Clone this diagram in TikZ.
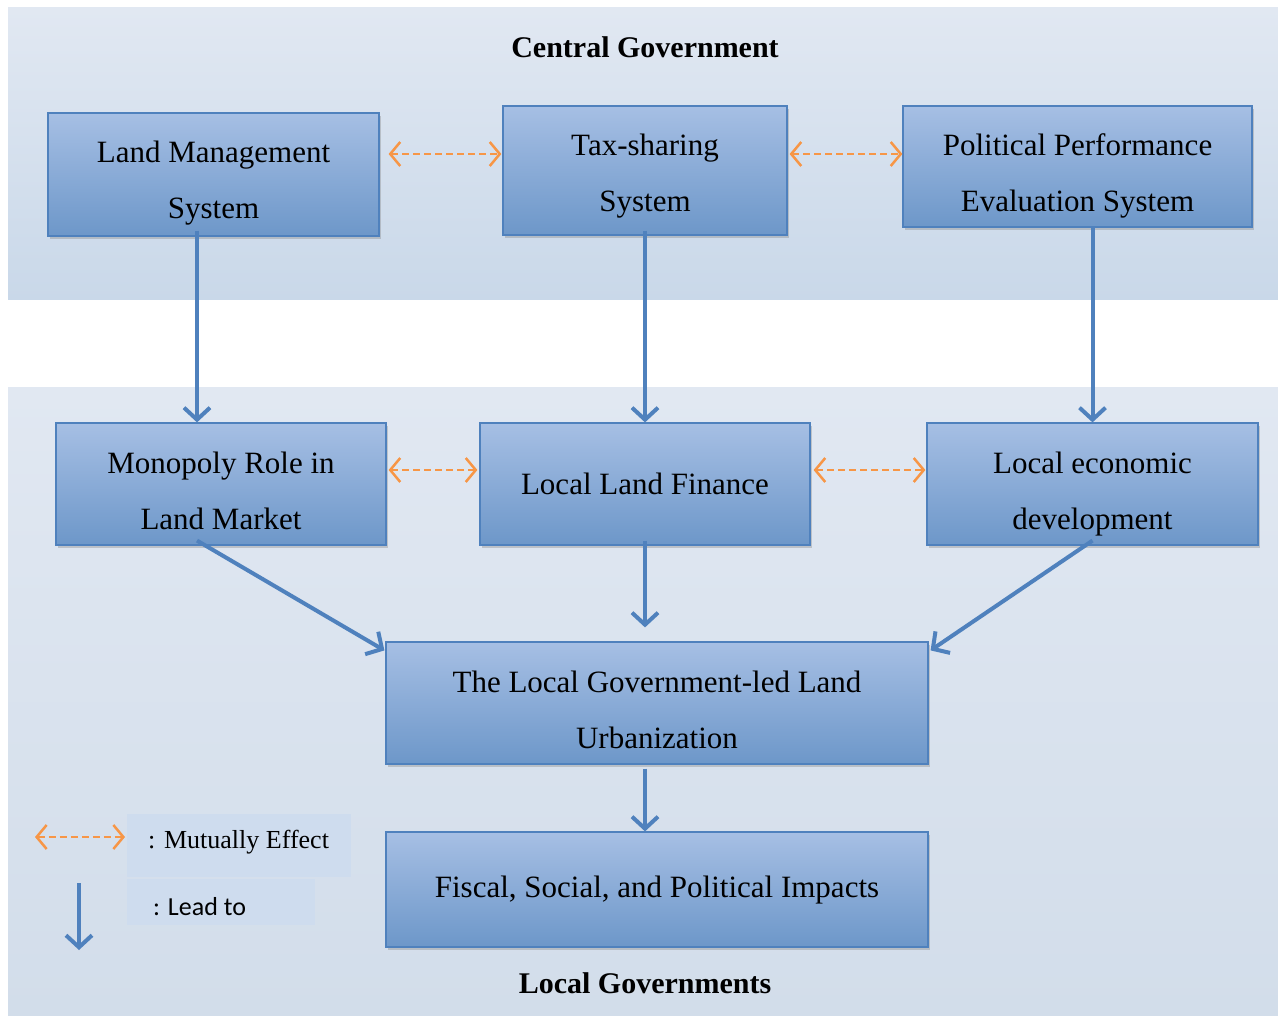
\documentclass[tikz,border=0pt]{standalone}
\usepackage{fontspec}
\setmainfont{Liberation Serif}
\newfontfamily\calibri{Carlito}
\usetikzlibrary{arrows.meta,shadows,calc}
\definecolor{boxtop}{HTML}{A6BFE4}
\definecolor{boxbot}{HTML}{6D97C9}
\definecolor{boxline}{HTML}{4F81BD}
\definecolor{arrowblue}{HTML}{4F81BD}
\definecolor{orangec}{HTML}{F79646}
\definecolor{paneltop}{HTML}{E1E8F2}
\definecolor{panelbot}{HTML}{C9D8E9}
\definecolor{panelbotb}{HTML}{D2DDEA}
\definecolor{legfill}{HTML}{CEDCEE}
\newcommand{\lowr}[1]{\rule{0pt}{#1}}
\tikzset{
  stepbox/.style={draw=boxline, line width=1.2pt, top color=boxtop, bottom color=boxbot,
    align=center, inner sep=0pt, font=\fontsize{31}{56}\selectfont,
    drop shadow={opacity=0.35, shadow xshift=2pt, shadow yshift=-3pt}},
  lead/.style={draw=arrowblue, line width=4pt, -{Straight Barb[length=12pt,width=26pt]}},
  mutual/.style={draw=orangec, line width=2.5pt, dash pattern=on 7pt off 4pt,
    {Straight Barb[length=10pt,width=24pt]}-{Straight Barb[length=10pt,width=24pt]}},
  titletext/.style={font=\fontsize{30}{34}\selectfont\bfseries},
  legbox/.style={fill=legfill, inner sep=0pt, anchor=north west}
}
\begin{document}
\begin{tikzpicture}[x=1pt,y=-1pt]
\useasboundingbox (0,0) rectangle (1278,1016);
\fill[white] (0,0) rectangle (1278,1016);
% panels
\shade[top color=paneltop, bottom color=panelbot] (8,8) rectangle (1278,300);
\shade[top color=paneltop, bottom color=panelbotb] (8,388) rectangle (1278,1016);
\node[titletext] (ct) at (645,47) {Central Government};
\node[titletext] (lt) at (645,983) {Local Governments};
% top boxes
\node[stepbox, minimum width=331pt, minimum height=123pt] (lms) at (213.5,174.5) {\lowr{39pt}Land Management\\System};
\node[stepbox, minimum width=284pt, minimum height=129pt] (tax) at (645,170.5) {\lowr{33pt}Tax-sharing\\System};
\node[stepbox, minimum width=349pt, minimum height=121pt] (ppe) at (1077.5,166.5) {\lowr{41pt}Political Performance\\Evaluation System};
% middle boxes
\node[stepbox, minimum width=330pt, minimum height=122pt] (mono) at (221,484) {\lowr{35pt}Monopoly Role in\\Land Market};
\node[stepbox, minimum width=330pt, minimum height=122pt] (llf) at (645,484) {Local Land Finance};
\node[stepbox, minimum width=331pt, minimum height=122pt] (led) at (1092.5,484) {\lowr{41pt}Local economic\\development};
% lower boxes
\node[stepbox, minimum width=542pt, minimum height=122pt] (lgu) at (657,703) {\lowr{35pt}The Local Government-led Land\\Urbanization};
\node[stepbox, minimum width=542pt, minimum height=115pt] (fsp) at (657,889.5) {\lowr{23pt}Fiscal, Social, and Political Impacts};
% mutual arrows
\draw[mutual] ([xshift=9pt,yshift=20.5pt]lms.east) -- ([xshift=-1pt,yshift=16.5pt]tax.west);
\draw[mutual] ([xshift=2pt,yshift=16.5pt]tax.east) -- ([xshift=0pt,yshift=12.5pt]ppe.west);
\draw[mutual] ([xshift=2pt,yshift=14pt]mono.east) -- ([xshift=-2pt,yshift=14pt]llf.west);
\draw[mutual] ([xshift=3pt,yshift=14pt]llf.east) -- ([xshift=-1pt,yshift=14pt]led.west);
% lead arrows
\draw[lead] ([xshift=-16.5pt,yshift=6pt]lms.south) -- ([xshift=-24pt]mono.north);
\draw[lead] ([yshift=5pt]tax.south) -- (llf.north);
\draw[lead] ([xshift=15pt,yshift=0pt]ppe.south) -- (led.north);
\draw[lead] ([xshift=-24pt,yshift=5pt]mono.south) -- ([xshift=-1pt,yshift=-9pt]lgu.north west);
\draw[lead] ([yshift=5pt]llf.south) -- ([xshift=-12pt,yshift=14pt]lgu.north);
\draw[lead] ([yshift=5pt]led.south) -- ([xshift=2pt,yshift=-9pt]lgu.north east);
\draw[lead] ([xshift=-12pt,yshift=-4pt]lgu.south) -- ([xshift=-12pt]fsp.north);
% legend
\node[legbox, minimum width=224pt, minimum height=63pt] (lb1) at (127,814) {};
\node[legbox, minimum width=188pt, minimum height=46pt] (lb2) at (127,879) {};
\node[anchor=west, font=\fontsize{26}{30}\selectfont, inner sep=0pt] (l1) at (148,842) {: Mutually Effect};
\node[anchor=west, font=\calibri\fontsize{26}{30}\selectfont, inner sep=0pt] (l2) at (153,907) {: Lead to};
\coordinate (ma) at (35,837);
\coordinate (mb) at (125,837);
\draw[mutual] (ma) -- (mb);
\coordinate (la) at (79,883);
\coordinate (lb) at (79,950);
\draw[lead] (la) -- (lb);
\end{tikzpicture}
\end{document}
